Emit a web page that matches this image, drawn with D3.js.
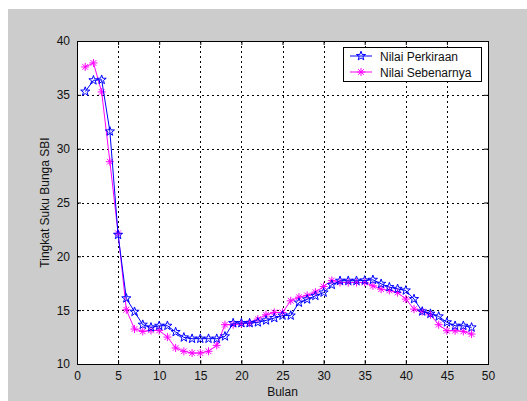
<!DOCTYPE html>
<html>
<head>
<meta charset="utf-8">
<script src="https://cdn.jsdelivr.net/npm/d3@7"></script>
<style>
  html, body { margin: 0; padding: 0; background: #fff; }
  text { font-family: "Liberation Sans", Arial, sans-serif; font-size: 12px; fill: #111; }
</style>
</head>
<body>
<svg id="canvas" width="527" height="401"></svg>
<script>
/********** Data **********/
var bulan = d3.range(1, 49);

var perkiraan = [
  35.3, 36.35, 36.4, 31.6, 22.0, 16.1, 14.85, 13.65, 13.4, 13.55,
  13.55, 12.97, 12.47, 12.35, 12.35, 12.35, 12.35, 12.57, 13.8, 13.8,
  13.8, 13.87, 14.05, 14.27, 14.5, 14.5, 15.7, 16.0, 16.33, 16.64,
  17.35, 17.73, 17.73, 17.73, 17.76, 17.82, 17.45, 17.14, 16.98, 16.83,
  16.03, 14.88, 14.67, 14.42, 13.87, 13.55, 13.55, 13.4
];

var sebenarnya = [
  37.59, 37.96, 35.27, 28.79, 22.14, 15.04, 13.25, 13.03, 13.12, 13.12,
  12.5, 11.49, 11.18, 11.02, 11.02, 11.18, 11.73, 13.65, 13.65, 13.74,
  13.8, 14.17, 14.57, 14.79, 14.79, 15.87, 16.21, 16.37, 16.68, 17.2,
  17.76, 17.57, 17.57, 17.57, 17.57, 17.26, 16.95, 16.83, 16.64, 16.03,
  15.1, 14.88, 14.57, 13.65, 13.09, 13.09, 13.03, 12.78
];

var xTicks = [0, 5, 10, 15, 20, 25, 30, 35, 40, 45, 50];
var yTicks = [10, 15, 20, 25, 30, 35, 40];
var seriesNames = ["Nilai Perkiraan", "Nilai Sebenarnya"];

/********** Setup **********/
var svg = d3.select("#canvas");
var pLeft = 77, pRight = 488, pTop = 41, pBottom = 364;

svg.append("rect")
  .attr("x", 8).attr("y", 9)
  .attr("width", 519).attr("height", 392)
  .attr("fill", "#cccccc");

var x = d3.scaleLinear().domain([0, 50]).range([pLeft, pRight]);
var y = d3.scaleLinear().domain([10, 40]).range([pBottom, pTop]);

svg.append("rect")
  .attr("x", pLeft).attr("y", pTop)
  .attr("width", pRight - pLeft).attr("height", pBottom - pTop)
  .attr("fill", "#fff");

/********** Grid **********/
var grid = svg.append("g")
  .attr("stroke", "#000")
  .attr("stroke-width", 1)
  .attr("stroke-dasharray", "2,3")
  .attr("shape-rendering", "crispEdges");

grid.selectAll(".gx")
  .data(xTicks.slice(1, -1))
  .enter().append("line")
  .attr("x1", function(d) { return Math.round(x(d)) + 0.5; })
  .attr("x2", function(d) { return Math.round(x(d)) + 0.5; })
  .attr("y1", pTop).attr("y2", pBottom);

grid.selectAll(".gy")
  .data(yTicks.slice(1, -1))
  .enter().append("line")
  .attr("y1", function(d) { return Math.round(y(d)) + 0.5; })
  .attr("y2", function(d) { return Math.round(y(d)) + 0.5; })
  .attr("x1", pLeft).attr("x2", pRight);

/********** Axes **********/
var tickLen = 4;
var axBottom = d3.axisBottom(x).tickValues(xTicks).tickSizeInner(-tickLen).tickSizeOuter(0).tickPadding(7);
var axTop = d3.axisTop(x).tickValues(xTicks).tickSizeInner(-tickLen).tickSizeOuter(0).tickFormat("");
var axLeft = d3.axisLeft(y).tickValues(yTicks).tickSizeInner(-tickLen).tickSizeOuter(0).tickPadding(7);
var axRight = d3.axisRight(y).tickValues(yTicks).tickSizeInner(-tickLen).tickSizeOuter(0).tickFormat("");

function styleAxis(g) {
  g.select(".domain").remove();
  g.selectAll("line").attr("stroke", "#000");
  g.selectAll("text").attr("font-family", null).attr("font-size", null).attr("fill", "#111");
}

svg.append("g").attr("transform", "translate(0," + pBottom + ")").call(axBottom).call(styleAxis);
svg.append("g").attr("transform", "translate(0," + pTop + ")").call(axTop).call(styleAxis);
svg.append("g").attr("transform", "translate(" + pLeft + ",0)").call(axLeft).call(styleAxis);
svg.append("g").attr("transform", "translate(" + pRight + ",0)").call(axRight).call(styleAxis);

svg.append("rect")
  .attr("x", pLeft + 0.5).attr("y", pTop + 0.5)
  .attr("width", pRight - pLeft).attr("height", pBottom - pTop)
  .attr("fill", "none").attr("stroke", "#000")
  .attr("shape-rendering", "crispEdges");

/********** Labels **********/
svg.append("text")
  .attr("x", (pLeft + pRight) / 2).attr("y", 396)
  .attr("text-anchor", "middle")
  .text("Bulan");

svg.append("text")
  .attr("transform", "translate(49," + (pTop + pBottom) / 2 + ") rotate(-90)")
  .attr("text-anchor", "middle")
  .text("Tingkat Suku Bunga SBI");

/********** Markers **********/
function pentagram(r) {
  var pts = [];
  for (var i = 0; i < 10; i++) {
    var rr = i % 2 === 0 ? r : r * 0.4;
    var a = -Math.PI / 2 + i * Math.PI / 5;
    pts.push([rr * Math.cos(a), rr * Math.sin(a)]);
  }
  return "M" + pts.map(function(p) { return p[0].toFixed(2) + "," + p[1].toFixed(2); }).join("L") + "Z";
}

function asterisk(r) {
  var d = r * 0.7071;
  return "M" + (-r) + ",0L" + r + ",0M0," + (-r) + "L0," + r +
         "M" + (-d) + "," + (-d) + "L" + d + "," + d +
         "M" + (-d) + "," + d + "L" + d + "," + (-d);
}

var line = d3.line()
  .x(function(d, i) { return x(bulan[i]); })
  .y(function(d) { return y(d); });

/********** Series **********/
svg.append("path")
  .datum(sebenarnya)
  .attr("d", line)
  .attr("fill", "none").attr("stroke", "#ff00ff").attr("stroke-width", 1);

svg.append("g").selectAll("path")
  .data(sebenarnya)
  .enter().append("path")
  .attr("transform", function(d, i) { return "translate(" + x(bulan[i]) + "," + y(d) + ")"; })
  .attr("d", asterisk(4))
  .attr("fill", "none").attr("stroke", "#ff00ff").attr("stroke-width", 1);

svg.append("path")
  .datum(perkiraan)
  .attr("d", line)
  .attr("fill", "none").attr("stroke", "#0000ff").attr("stroke-width", 1);

svg.append("g").selectAll("path")
  .data(perkiraan)
  .enter().append("path")
  .attr("transform", function(d, i) { return "translate(" + x(bulan[i]) + "," + y(d) + ")"; })
  .attr("d", pentagram(4.8))
  .attr("fill", "none").attr("stroke", "#0000ff").attr("stroke-width", 1);

/********** Legend **********/
var legend = svg.append("g");
legend.append("rect")
  .attr("x", 343.5).attr("y", 47.5)
  .attr("width", 138).attr("height", 34)
  .attr("fill", "#fff").attr("stroke", "#000")
  .attr("shape-rendering", "crispEdges");

var colors = ["#0000ff", "#ff00ff"];
var shapes = [pentagram(4.8), asterisk(4)];

var item = legend.selectAll(".item")
  .data(seriesNames)
  .enter().append("g")
  .attr("transform", function(d, i) { return "translate(0," + (56 + i * 16) + ")"; });

item.append("line")
  .attr("x1", 350).attr("x2", 372).attr("y1", 0).attr("y2", 0)
  .attr("stroke", function(d, i) { return colors[i]; });

item.append("path")
  .attr("transform", "translate(361,0)")
  .attr("d", function(d, i) { return shapes[i]; })
  .attr("fill", "none")
  .attr("stroke", function(d, i) { return colors[i]; });

item.append("text")
  .attr("x", 380).attr("y", 4.5)
  .text(function(d) { return d; });
</script>
</body>
</html>
